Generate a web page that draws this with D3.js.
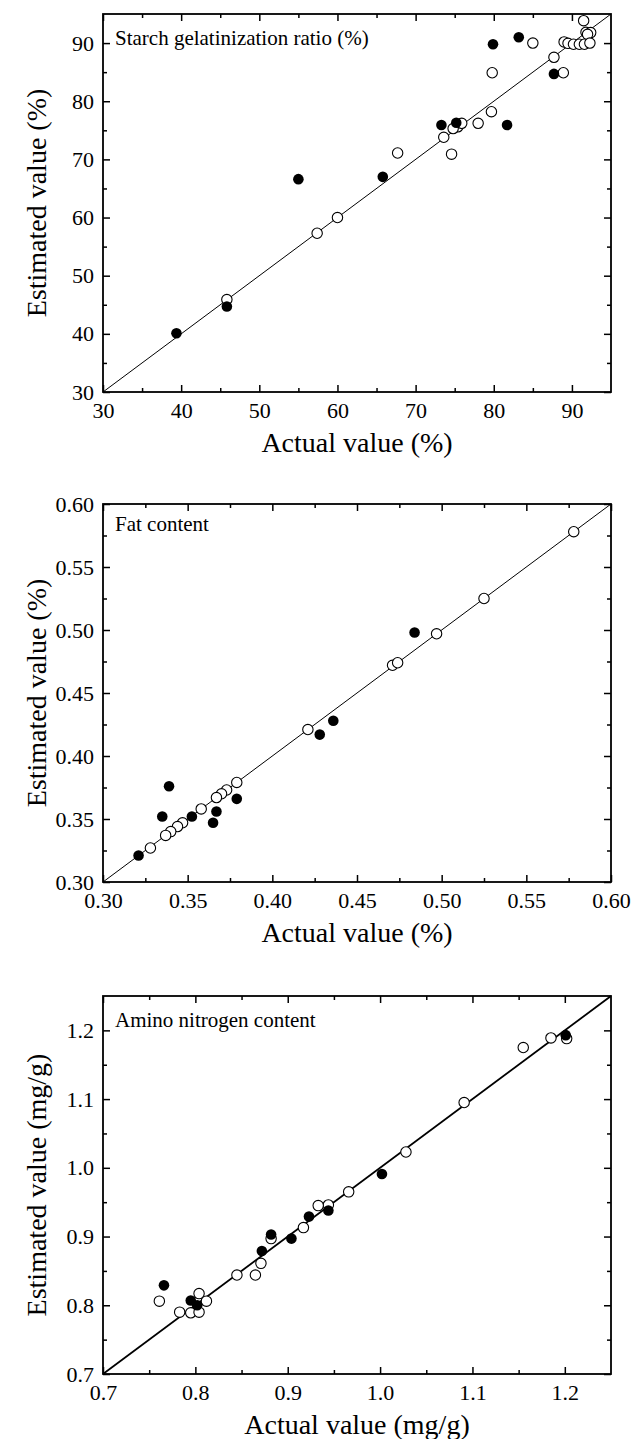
<!DOCTYPE html>
<html><head><meta charset="utf-8">
<script src="https://cdn.jsdelivr.net/npm/d3@7"></script>
<style>
body{margin:0;background:#fff}
svg{display:block}
text{font-family:"Liberation Serif","Times New Roman",serif;fill:#000}
</style>
</head><body>
<svg id="chart" width="631" height="1439"></svg>
<script>
// ---- Data ----
// Panel 1: Starch gelatinization ratio (%)
const starchCalX = [91.5, 91.8, 92.4, 92.0, 89.0, 89.5, 90.2, 90.95, 91.6, 92.3, 85.0, 87.7, 88.9, 79.8, 79.7, 78.0, 75.4, 74.8, 75.9, 73.6, 67.7, 74.6, 57.4, 60.0, 45.85];
const starchCalY = [93.85, 91.85, 91.8, 91.5, 90.2, 89.95, 89.8, 89.8, 89.8, 90.0, 90.0, 87.55, 84.9, 84.9, 78.2, 76.2, 75.6, 75.3, 76.2, 73.8, 71.1, 70.9, 57.3, 60.0, 45.9];
const starchValX = [39.4, 45.85, 55.0, 65.8, 73.3, 75.2, 81.7, 79.9, 83.2, 87.7];
const starchValY = [40.1, 44.7, 66.6, 67.0, 75.9, 76.3, 75.9, 89.8, 91.0, 84.7];
const starchTicks = [30, 40, 50, 60, 70, 80, 90];
const starchMinor = [35, 45, 55, 65, 75, 85];

// Panel 2: Fat content
const fatCalX = [0.578, 0.525, 0.497, 0.471, 0.474, 0.421, 0.379, 0.373, 0.370, 0.367, 0.358, 0.347, 0.344, 0.340, 0.337, 0.328];
const fatCalY = [0.578, 0.525, 0.497, 0.472, 0.474, 0.421, 0.379, 0.373, 0.370, 0.367, 0.358, 0.347, 0.344, 0.340, 0.337, 0.327];
const fatValX = [0.484, 0.428, 0.436, 0.339, 0.335, 0.3525, 0.365, 0.367, 0.379, 0.321];
const fatValY = [0.498, 0.417, 0.428, 0.376, 0.352, 0.352, 0.347, 0.356, 0.366, 0.321];
const fatTicks = [0.30, 0.35, 0.40, 0.45, 0.50, 0.55, 0.60];
const fatMinor = [0.325, 0.375, 0.425, 0.475, 0.525, 0.575];

// Panel 3: Amino nitrogen content
const aminoCalX = [1.091, 1.155, 1.185, 1.202, 1.028, 0.966, 0.944, 0.933, 0.917, 0.882, 0.871, 0.845, 0.865, 0.761, 0.804, 0.812, 0.783, 0.795, 0.804];
const aminoCalY = [1.095, 1.175, 1.189, 1.188, 1.023, 0.965, 0.946, 0.945, 0.913, 0.897, 0.861, 0.844, 0.844, 0.806, 0.817, 0.806, 0.790, 0.789, 0.790];
const aminoValX = [1.201, 1.002, 0.944, 0.923, 0.904, 0.882, 0.872, 0.766, 0.795, 0.802];
const aminoValY = [1.193, 0.991, 0.938, 0.929, 0.897, 0.903, 0.879, 0.829, 0.807, 0.800];
const aminoTicks = [0.7, 0.8, 0.9, 1.0, 1.1, 1.2];
const aminoMinor = [0.75, 0.85, 0.95, 1.05, 1.15];

const panels = [
  {title: "Starch gelatinization ratio (%)", xLabel: "Actual value (%)", yLabel: "Estimated value (%)",
   domain: [30, 95], ticks: starchTicks, minor: starchMinor, fmt: d3.format("d"),
   calX: starchCalX, calY: starchCalY, valX: starchValX, valY: starchValY, top: 14, lineW: 1, titleDy: 31},
  {title: "Fat content", xLabel: "Actual value (%)", yLabel: "Estimated value (%)",
   domain: [0.30, 0.60], ticks: fatTicks, minor: fatMinor, fmt: d3.format(".2f"),
   calX: fatCalX, calY: fatCalY, valX: fatValX, valY: fatValY, top: 504, lineW: 1, titleDy: 27},
  {title: "Amino nitrogen content", xLabel: "Actual value (mg/g)", yLabel: "Estimated value (mg/g)",
   domain: [0.7, 1.25], ticks: aminoTicks, minor: aminoMinor, fmt: d3.format(".1f"),
   calX: aminoCalX, calY: aminoCalY, valX: aminoValX, valY: aminoValY, top: 996, lineW: 1.8, titleDy: 31}
];

const svg = d3.select("#chart");
const left = 103, W = 508, H = 378;
const major = 7, minorLen = 4;

panels.forEach(p => {
  const g = svg.append("g").attr("transform", `translate(${left},${p.top})`);
  const x = d3.scaleLinear().domain(p.domain).range([0, W]);
  const y = d3.scaleLinear().domain(p.domain).range([H, 0]);

  // diagonal 1:1 line
  g.append("line")
    .attr("x1", x(p.domain[0])).attr("y1", y(p.domain[0]))
    .attr("x2", x(p.domain[1])).attr("y2", y(p.domain[1]))
    .attr("stroke", "#000").attr("stroke-width", p.lineW);

  const styleAxis = sel => {
    sel.select(".domain").remove();
    sel.selectAll("line").attr("stroke", "#000").attr("stroke-width", 1.5);
    sel.selectAll("text").style("font-size", "22px").attr("fill", "#000");
  };

  // bottom
  g.append("g").attr("transform", `translate(0,${H})`)
    .call(d3.axisBottom(x).tickValues(p.ticks).tickFormat(p.fmt).tickSize(-major).tickPadding(10)).call(styleAxis);
  g.append("g").attr("transform", `translate(0,${H})`)
    .call(d3.axisBottom(x).tickValues(p.minor).tickFormat("").tickSize(-minorLen)).call(styleAxis);
  // top
  g.append("g")
    .call(d3.axisTop(x).tickValues(p.ticks).tickFormat("").tickSize(-major)).call(styleAxis);
  g.append("g")
    .call(d3.axisTop(x).tickValues(p.minor).tickFormat("").tickSize(-minorLen)).call(styleAxis);
  // left
  g.append("g")
    .call(d3.axisLeft(y).tickValues(p.ticks).tickFormat(p.fmt).tickSize(-major).tickPadding(9)).call(styleAxis);
  g.append("g")
    .call(d3.axisLeft(y).tickValues(p.minor).tickFormat("").tickSize(-minorLen)).call(styleAxis);
  // right
  g.append("g").attr("transform", `translate(${W},0)`)
    .call(d3.axisRight(y).tickValues(p.ticks).tickFormat("").tickSize(-major)).call(styleAxis);
  g.append("g").attr("transform", `translate(${W},0)`)
    .call(d3.axisRight(y).tickValues(p.minor).tickFormat("").tickSize(-minorLen)).call(styleAxis);

  // frame
  g.append("rect").attr("x", 0).attr("y", 0).attr("width", W).attr("height", H)
    .attr("fill", "none").attr("stroke", "#000").attr("stroke-width", 1.8);

  // open circles (calibration)
  g.append("g").selectAll("circle").data(p.calX.map((v, i) => [v, p.calY[i]])).join("circle")
    .attr("cx", d => x(d[0])).attr("cy", d => y(d[1])).attr("r", 5.2)
    .attr("fill", "#fff").attr("stroke", "#000").attr("stroke-width", 1.1);
  // filled circles (validation)
  g.append("g").selectAll("circle").data(p.valX.map((v, i) => [v, p.valY[i]])).join("circle")
    .attr("cx", d => x(d[0])).attr("cy", d => y(d[1])).attr("r", 5.3)
    .attr("fill", "#000");

  // panel title
  g.append("text").attr("x", 12).attr("y", p.titleDy).style("font-size", "21px").text(p.title);

  // axis titles
  g.append("text").attr("x", W / 2).attr("y", H + 60).attr("text-anchor", "middle")
    .style("font-size", "28px").text(p.xLabel);
  g.append("text").attr("transform", `translate(${46 - left},${H / 2}) rotate(-90)`)
    .attr("text-anchor", "middle").style("font-size", "28px").text(p.yLabel);
});
</script>
</body></html>
